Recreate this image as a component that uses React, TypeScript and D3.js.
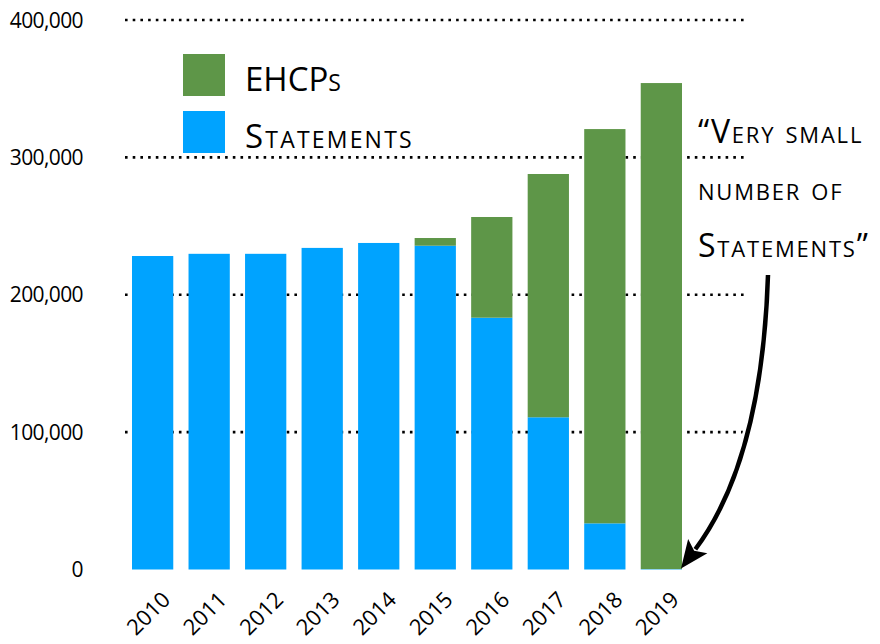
import * as d3 from 'd3';

const years = ['2010', '2011', '2012', '2013', '2014', '2015', '2016', '2017', '2018', '2019'];
const statements = [228200, 229800, 229800, 234100, 237700, 235700, 183300, 110800, 33600, 300];
const ehcps = [0, 0, 0, 0, 0, 5600, 73300, 177100, 287000, 353800];
const yTicks = [0, 100000, 200000, 300000, 400000];
const seriesNames = ['EHCPs', 'Statements'];
const annotation = ['\u201CVery small', 'number of', 'Statements\u201D'];

const GREEN = '#5e9648';
const BLUE = '#00a3ff';
const FONT = "'Humor Sans', 'Open Sans', sans-serif";

const W = 880;
const H = 644;

const App = () => {
  const x = d3.scaleBand<string>().domain(years).range([132, 682]).paddingInner(0.27).paddingOuter(0);
  const y = d3.scaleLinear().domain([0, 400000]).range([569.5, 20]);
  const fmt = d3.format(',');

  const rows = years.map((yr, i) => ({ year: yr, statements: statements[i], ehcps: ehcps[i] }));
  const stacked = d3.stack<any>().keys(['statements', 'ehcps'])(rows);
  const colors = [BLUE, GREEN];

  // arrow from annotation text down to the base of the 2019 bar
  const last = years[years.length - 1];
  const tipX = (x(last) ?? 0) + x.bandwidth() - 1;
  const tipY = y(0) - 1;
  const sx = 768, sy = 275;
  const cx = 762, cy = 460;
  const ang = Math.atan2(tipY - cy, tipX - cx);
  const headLen = 28, headW = 12;
  const bx = tipX - Math.cos(ang) * headLen, by = tipY - Math.sin(ang) * headLen;
  const nx = -Math.sin(ang), ny = Math.cos(ang);
  const endX = tipX - Math.cos(ang) * (headLen - 4), endY = tipY - Math.sin(ang) * (headLen - 4);
  const arrowPath = d3.path();
  arrowPath.moveTo(sx, sy);
  arrowPath.quadraticCurveTo(cx, cy, endX, endY);
  const head = `M${tipX},${tipY}L${bx + nx * headW},${by + ny * headW}L${bx + Math.cos(ang) * 6},${by + Math.sin(ang) * 6}L${bx - nx * headW},${by - ny * headW}Z`;

  return (
    <svg width={W} height={H} style={{ position: 'absolute', left: 0, top: 0, background: '#fff' }} fontFamily={FONT}>
      {/* dotted gridlines */}
      {yTicks.filter(t => t > 0).map(t => (
        <line key={t} x1={125} x2={745} y1={y(t)} y2={y(t)} stroke="#000" strokeWidth={2.6} strokeDasharray="2.6 5.1" />
      ))}
      {/* y labels */}
      {yTicks.map(t => (
        <text key={t} x={83} y={y(t)} dy="0.36em" textAnchor="end" fontSize={21} letterSpacing={-0.6} fill="#000">{fmt(t)}</text>
      ))}
      {/* bars */}
      {stacked.map((s, si) => (
        <g key={s.key} fill={colors[si]}>
          {s.map((d, i) => d[1] > d[0] ? (
            <rect key={i} x={x(years[i])} width={x.bandwidth()} y={y(d[1])} height={y(d[0]) - y(d[1])} />
          ) : null)}
        </g>
      ))}
      {/* year labels */}
      {years.map(yr => {
        const px = (x(yr) ?? 0) + x.bandwidth() / 2 + 19;
        const py = 601;
        return (
          <text key={yr} x={px} y={py} textAnchor="end" fontSize={22} transform={`rotate(-45 ${px} ${py})`}>{yr}</text>
        );
      })}
      {/* legend */}
      {seriesNames.map((n, i) => (
        <g key={n} transform={`translate(183, ${54 + i * 57})`}>
          <rect width={42} height={42} fill={i === 0 ? GREEN : BLUE} />
          <text x={62} y={37} fontSize={33} letterSpacing={i === 0 ? 0 : 2.2} style={{ fontVariant: 'small-caps' }}>{n}</text>
        </g>
      ))}
      {/* annotation */}
      {annotation.map((t, i) => (
        <text key={i} x={698} y={143 + i * 57} fontSize={32} letterSpacing={1.8} style={{ fontVariant: 'small-caps' }}>{t}</text>
      ))}
      <path d={arrowPath.toString()} fill="none" stroke="#fff" strokeWidth={10} />
      <path d={arrowPath.toString()} fill="none" stroke="#000" strokeWidth={4.5} />
      <path d={head} fill="#000" />
    </svg>
  );
};

export default App;
